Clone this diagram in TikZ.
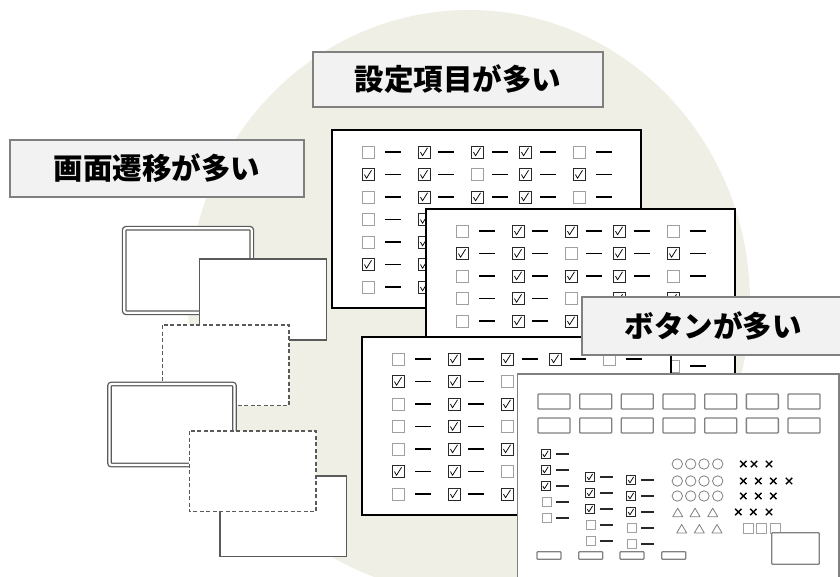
\documentclass[tikz,border=0pt]{standalone}
\usepackage{fontspec}
\newfontfamily\cjk{Noto Sans CJK JP}
\definecolor{bgbeige}{RGB}{240,239,230}
\definecolor{lblfill}{RGB}{242,242,242}
\definecolor{lblgray}{RGB}{128,128,128}
\definecolor{wingray}{RGB}{90,90,90}
\definecolor{btngray}{RGB}{128,128,128}
\definecolor{cbdark}{RGB}{40,40,40}
\definecolor{cblight}{RGB}{160,160,160}
\tikzset{
  lbl/.style={draw=lblgray, fill=lblfill, line width=1.5pt, inner sep=0pt, text=black,
    font=\cjk\bfseries\fontsize{29.5}{31}\selectfont},
  card/.style={draw=black, fill=white, line width=1.6pt},
  bcard/.style={draw=btngray, fill=white, line width=1.5pt},
  win/.style={draw=wingray, fill=white, line width=1.4pt},
  windash/.style={win, dash pattern=on 4pt off 2.5pt},
  windbl/.style={draw=wingray, line width=1.3pt, double=white, double distance=2.2pt, rounded corners=2pt, fill=white},
  dashl/.style={draw=black, line width=1.5pt},
  dashs/.style={draw=cbdark, line width=1.3pt},
  btn/.style={draw=btngray, line width=1.3pt, rounded corners=0.8pt, fill=white},
  shp/.style={draw=btngray, line width=0.8pt},
  crs/.style={draw=black, line width=1.4pt},
  cbon/.pic={\draw[draw=cbdark, line width=0.9pt, fill=white] (-6,-6) rectangle (6,6);
    \draw[line width=0.75pt, line join=round] (-3.5,0) -- (-1.5,3.8) -- (3.5,-4.2);},
  cboff/.pic={\draw[draw=cblight, line width=0.9pt, fill=white] (-6,-6) rectangle (6,6);}
}
\begin{document}
\begin{tikzpicture}[x=1pt,y=-1pt]
\useasboundingbox (0,0) rectangle (840,577);
\clip (0,0) rectangle (840,577);
\fill[white] (0,0) rectangle (840,577);
% background disc
\fill[bgbeige] (469,302) ellipse [x radius=281, y radius=292];

% labels
\node[lbl, minimum width=290pt, minimum height=55pt] (lblset) at (458,79.5) {設定項目が多い};
\node[lbl, minimum width=294pt, minimum height=57pt] (lblscr) at (157,168.5) {画面遷移が多い};

% screen windows
\draw[windbl] (124.25,228.25) rectangle (251.75,312.75);
\draw[win] (199.3,259) rectangle (326.7,340);
\draw[windash] (162.3,325) rectangle (289,405.7);
\draw[windbl] (109.5,384) rectangle (234.5,465);
\draw[win] (220,476) rectangle (346.7,556.7);
\draw[windash] (189.3,431) rectangle (316,511.7);

% checklist cards
\foreach \cx/\cy in {332/130, 426/209, 362/337}{
  \draw[card] (\cx,\cy) rectangle ++(309,178);
  \foreach \r/\pa/\pb/\pc/\pd/\pe in {0/0/1/1/1/0, 1/1/1/0/1/1, 2/0/1/1/1/0, 3/0/1/0/1/1, 4/0/1/1/1/0, 5/1/1/0/1/1, 6/0/1/1/1/0}{
    \foreach \co/\dof/\f in {30/53/\pa, 86/106/\pb, 139/160/\pc, 187/208/\pd, 241/264/\pe}{
      \ifnum\f=1
        \pic at (\cx+\co+6,\cy+22+22.5*\r) {cbon};
      \else
        \pic at (\cx+\co+6,\cy+22+22.5*\r) {cboff};
      \fi
      \draw[dashl] (\cx+\dof,\cy+22+22.5*\r) -- ++(16,0);
    }
  }
}

% button label
\node[lbl, minimum width=262pt, minimum height=58pt] (lblbtn) at (713,326) {ボタンが多い};

% buttons card
\draw[bcard] (517.5,374) rectangle (839,600);
\foreach \i in {0,...,6}{
  \draw[btn] (538+41.67*\i,394) rectangle ++(32,15);
  \draw[btn] (538+41.67*\i,418) rectangle ++(32,15);
}
\foreach \bx/\dx/\ya in {545.5/556/454, 590/600/477, 631/641/480}{
  \foreach \k/\f in {0/1,1/1,2/1,3/0,4/0}{
    \ifnum\f=1
      \pic[scale=0.75] at (\bx,\ya+16*\k) {cbon};
    \else
      \pic[scale=0.75] at (\bx+1,\ya+16*\k) {cboff};
    \fi
    \draw[dashs] (\dx,\ya+16*\k) -- ++(13,0);
  }
}
\foreach \yy in {464,481,496}{
  \foreach \xx in {677.3,690.7,704,717.7}{
    \draw[shp] (\xx,\yy) circle[radius=5.2];
  }
}
\foreach \xx/\yy in {677.7/512.7, 695/512.7, 712.7/512.7, 681.7/529, 699.3/529, 717/529}{
  \draw[shp, line join=round] (\xx-5,\yy+4) -- (\xx+5,\yy+4) -- (\xx,\yy-4.5) -- cycle;
}
\foreach \xx/\yy in {743.3/464, 754/464, 769/464, 743.3/481, 758.3/481, 773.3/481, 789/481,
                     743.3/496, 758.3/496, 773.3/496, 738.3/512, 753.3/512, 769/512}{
  \draw[crs] (\xx-3.2,\yy-3.2) -- (\xx+3.2,\yy+3.2) (\xx-3.2,\yy+3.2) -- (\xx+3.2,\yy-3.2);
}
\foreach \xx in {743.3,756.7,770}{
  \draw[shp, draw=cblight, line width=1pt] (\xx,523.3) rectangle ++(10,10);
}
\draw[btn] (771.7,532.7) rectangle (819.3,564.3);
\foreach \xx in {537,578.7,620,661.7}{
  \draw[btn] (\xx,551.7) rectangle ++(24,7.6);
}
\end{tikzpicture}
\end{document}
